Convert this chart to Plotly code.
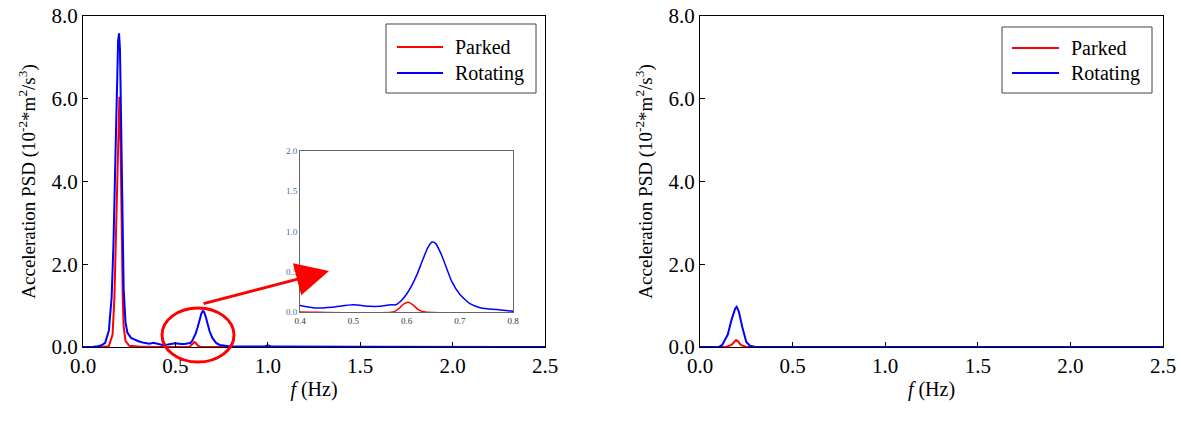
import plotly.graph_objects as go

# Left panel: acceleration PSD, parked vs rotating (10^-2 m^2/s^3)
left_rot_f = [0.0, 0.05, 0.08, 0.10, 0.12, 0.14, 0.155, 0.165, 0.175, 0.183, 0.19, 0.195,
              0.20, 0.205, 0.21, 0.215, 0.22, 0.23, 0.24, 0.26, 0.28, 0.30, 0.33, 0.36,
              0.38, 0.40, 0.43, 0.46, 0.50, 0.53, 0.55, 0.57, 0.58, 0.59, 0.60, 0.61,
              0.62, 0.63, 0.64, 0.648, 0.655, 0.665, 0.675, 0.685, 0.70, 0.72, 0.74,
              0.77, 0.80, 0.90, 0.98, 1.00, 1.02, 1.50, 2.00, 2.50]
left_rot_psd = [0.0, 0.0, 0.02, 0.04, 0.10, 0.40, 1.20, 2.50, 4.50, 6.50, 7.40, 7.58,
                7.20, 5.80, 4.00, 2.50, 1.40, 0.60, 0.35, 0.22, 0.17, 0.14, 0.10, 0.08,
                0.10, 0.08, 0.05, 0.06, 0.09, 0.07, 0.07, 0.09, 0.09, 0.14, 0.22, 0.33,
                0.47, 0.64, 0.80, 0.87, 0.85, 0.72, 0.55, 0.38, 0.22, 0.10, 0.05,
                0.03, 0.01, 0.01, 0.01, 0.04, 0.01, 0.005, 0.005, 0.0]

left_park_f = [0.0, 0.10, 0.14, 0.16, 0.17, 0.18, 0.19, 0.197, 0.203, 0.21, 0.215, 0.22,
               0.23, 0.25, 0.30, 0.40, 0.575, 0.585, 0.595, 0.603, 0.612, 0.622, 0.635,
               1.00, 2.50]
left_park_psd = [0.0, 0.0, 0.02, 0.30, 1.20, 3.00, 5.20, 6.05, 5.00, 2.50, 1.20, 0.50,
                 0.15, 0.03, 0.01, 0.0, 0.0, 0.04, 0.10, 0.12, 0.09, 0.03, 0.0,
                 0.0, 0.0]

# Right panel
right_rot_f = [0.0, 0.10, 0.12, 0.15, 0.17, 0.19, 0.198, 0.21, 0.23, 0.25, 0.27, 0.30, 2.50]
right_rot_psd = [0.0, 0.0, 0.05, 0.30, 0.65, 0.93, 0.97, 0.85, 0.45, 0.12, 0.03, 0.0, 0.0]

right_park_f = [0.0, 0.14, 0.17, 0.185, 0.195, 0.205, 0.22, 0.25, 2.50]
right_park_psd = [0.0, 0.0, 0.05, 0.14, 0.17, 0.14, 0.05, 0.0, 0.0]

series_names = ["Parked", "Rotating"]
x_ticks = [0.0, 0.5, 1.0, 1.5, 2.0, 2.5]
y_ticks = [0.0, 2.0, 4.0, 6.0, 8.0]
inset_x_ticks = [0.4, 0.5, 0.6, 0.7, 0.8]
inset_y_ticks = [0.0, 0.5, 1.0, 1.5, 2.0]

RED = "#ff0000"
BLUE = "#0000ff"
FONT = "Liberation Serif"
W, H = 1181, 421


def px_x(p):
    return p / W


def px_y(p):
    return 1 - p / H


fig = go.Figure()

# main traces, left
fig.add_trace(go.Scatter(x=left_park_f, y=left_park_psd, name=series_names[0], mode="lines",
                         line=dict(color=RED, width=2), xaxis="x", yaxis="y", showlegend=False))
fig.add_trace(go.Scatter(x=left_rot_f, y=left_rot_psd, name=series_names[1], mode="lines",
                         line=dict(color=BLUE, width=2), xaxis="x", yaxis="y", showlegend=False))
# main traces, right
fig.add_trace(go.Scatter(x=right_park_f, y=right_park_psd, name=series_names[0], mode="lines",
                         line=dict(color=RED, width=2), xaxis="x2", yaxis="y2", showlegend=False))
fig.add_trace(go.Scatter(x=right_rot_f, y=right_rot_psd, name=series_names[1], mode="lines",
                         line=dict(color=BLUE, width=2), xaxis="x2", yaxis="y2", showlegend=False))
# zoomed inset of the 0.4-0.8 Hz band
fig.add_trace(go.Scatter(x=left_park_f, y=left_park_psd, mode="lines", showlegend=False,
                         line=dict(color=RED, width=1.5, shape="spline", smoothing=0.6),
                         xaxis="x3", yaxis="y3"))
fig.add_trace(go.Scatter(x=left_rot_f, y=left_rot_psd, mode="lines", showlegend=False,
                         line=dict(color=BLUE, width=1.5, shape="spline", smoothing=0.6),
                         xaxis="x3", yaxis="y3"))

ydom = [px_y(347), px_y(16)]
y_title = "Acceleration PSD (10<sup>-2</sup>*m<sup>2</sup>/s<sup>3</sup>)"
x_title = "<i>f</i> (Hz)"

common_x = dict(range=[0, 2.5], tickvals=x_ticks, tickformat=".1f", ticks="inside",
                ticklen=5, tickcolor="#000", showline=True, linecolor="#000", linewidth=1,
                mirror=True, showgrid=False, zeroline=False, automargin=False,
                tickfont=dict(family=FONT, size=21, color="#000"),
                title=dict(text=x_title, font=dict(family=FONT, size=20, color="#000"),
                           standoff=4))
common_y = dict(range=[0, 8.0], tickvals=y_ticks, tickformat=".1f", ticks="inside",
                ticklen=5, tickcolor="#000", showline=True, linecolor="#000", linewidth=1,
                mirror=True, showgrid=False, zeroline=False, domain=ydom, automargin=False,
                tickfont=dict(family=FONT, size=21, color="#000"),
                title=dict(text=y_title, font=dict(family=FONT, size=19, color="#000"),
                           standoff=10))

fig.update_layout(
    width=W, height=H,
    margin=dict(l=0, r=0, t=0, b=0, autoexpand=False),
    paper_bgcolor="white", plot_bgcolor="white",
    xaxis=dict(common_x, domain=[px_x(83), px_x(545)], anchor="y"),
    yaxis=dict(common_y, anchor="x"),
    xaxis2=dict(common_x, domain=[px_x(700), px_x(1163)], anchor="y2"),
    yaxis2=dict(common_y, anchor="x2"),
    xaxis3=dict(range=[0.4, 0.8], tickvals=inset_x_ticks, tickformat=".1f", ticks="",
                showline=True, linecolor="#666", linewidth=1, mirror=True, showgrid=False,
                zeroline=False, domain=[px_x(300), px_x(513)], anchor="y3", automargin=False,
                tickfont=dict(family=FONT, size=9, color="#333")),
    yaxis3=dict(range=[0, 2.0], tickvals=inset_y_ticks, tickformat=".1f", ticks="",
                showline=True, linecolor="#666", linewidth=1, mirror=True, showgrid=False,
                zeroline=False, domain=[px_y(312), px_y(151)], anchor="x3", automargin=False,
                tickfont=dict(family=FONT, size=9, color="#4a6a9a")),
    showlegend=False,
)


def add_legend_box(left, top, right, bottom, line_x0, line_x1, text_x, rows):
    """Framed key: a short line sample and a label per series."""
    fig.add_shape(type="rect", xref="paper", yref="paper",
                  x0=px_x(left), x1=px_x(right), y0=px_y(bottom), y1=px_y(top),
                  line=dict(color="#444", width=1), fillcolor="rgba(0,0,0,0)")
    for (label, color, yc) in rows:
        fig.add_shape(type="line", xref="paper", yref="paper",
                      x0=px_x(line_x0), x1=px_x(line_x1), y0=px_y(yc), y1=px_y(yc),
                      line=dict(color=color, width=2))
        fig.add_annotation(xref="paper", yref="paper", x=px_x(text_x), y=px_y(yc),
                           text=label, showarrow=False, xanchor="left", yanchor="middle",
                           font=dict(family=FONT, size=20, color="#000"))


add_legend_box(386, 24, 536, 93, 397, 443, 453,
               [(series_names[0], RED, 47), (series_names[1], BLUE, 73)])
add_legend_box(1002, 27, 1152, 93, 1012, 1059, 1069,
               [(series_names[0], RED, 48), (series_names[1], BLUE, 73)])

# highlight ellipse around the second peak and arrow pointing to the inset
fig.add_shape(type="circle", xref="paper", yref="paper",
              x0=px_x(162), x1=px_x(234), y0=px_y(362), y1=px_y(308),
              line=dict(color=RED, width=3), fillcolor="rgba(0,0,0,0)")
fig.add_annotation(xref="paper", yref="paper", x=px_x(329), y=px_y(271),
                   ax=-127, ay=33, axref="pixel", ayref="pixel",
                   text="", showarrow=True, arrowhead=2, arrowsize=2.2, arrowwidth=3,
                   arrowcolor=RED, standoff=0, startstandoff=0)

fig.write_html("out.html")
